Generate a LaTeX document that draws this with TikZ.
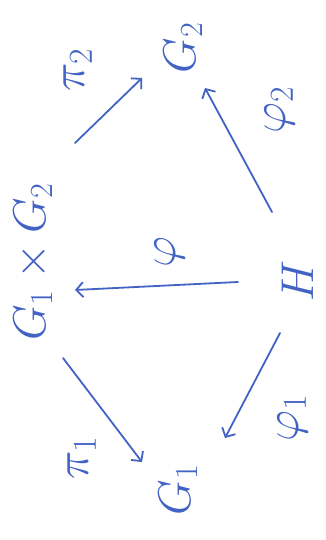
\RequirePackage{fix-cm}
\documentclass[tikz,border=0pt]{standalone}
\usepackage{amsmath, amssymb}
\usetikzlibrary{arrows.meta, calc}
\definecolor{ink}{RGB}{66,98,196}

\begin{document}
\begin{tikzpicture}[
  x=1pt, y=-1pt,
  obj/.style={text=ink, rotate=90, inner sep=1pt,
              font=\fontsize{46}{52}\selectfont},
  lbl/.style={text=ink, rotate=90, inner sep=1pt,
              font=\fontsize{48}{54}\selectfont},
  map/.style={draw=ink, line width=1.8pt, line cap=round,
              -{Straight Barb[length=7pt, width=15pt, line width=1.8pt]}}
]
  \useasboundingbox (0,0) rectangle (326,540);

  % Objects
  \node[obj] (prod) at (33,262) {$G_1\times G_2$};
  \node[obj] (gtwo) at (183,48) {$G_2$};
  \node[obj] (gone) at (178,490) {$G_1$};
  \node[obj] (h) at (298,281) {$H$};

  % Maps
  \draw[map] ($(h)+(-60,1)$) -- ($(prod)+(42,28)$);
  \draw[map] ($(h)+(-26,-69)$) -- ($(gtwo)+(22,40)$);
  \draw[map] ($(h)+(-18,52)$) -- ($(gone)+(47,-52)$);
  \draw[map] ($(prod)+(42,-119)$) -- ($(gtwo)+(-41,30)$);
  \draw[map] ($(prod)+(30,96)$) -- ($(gone)+(-36,-28)$);

  % Labels
  \node[lbl] (lphi) at (170,252) {$\varphi$};
  \node[lbl] (lphitwo) at (280,110) {$\varphi_2$};
  \node[lbl] (lphione) at (293,418) {$\varphi_1$};
  \node[lbl] (lpitwo) at (78,70) {$\pi_2$};
  \node[lbl] (lpione) at (82,458) {$\pi_1$};
\end{tikzpicture}
\end{document}
